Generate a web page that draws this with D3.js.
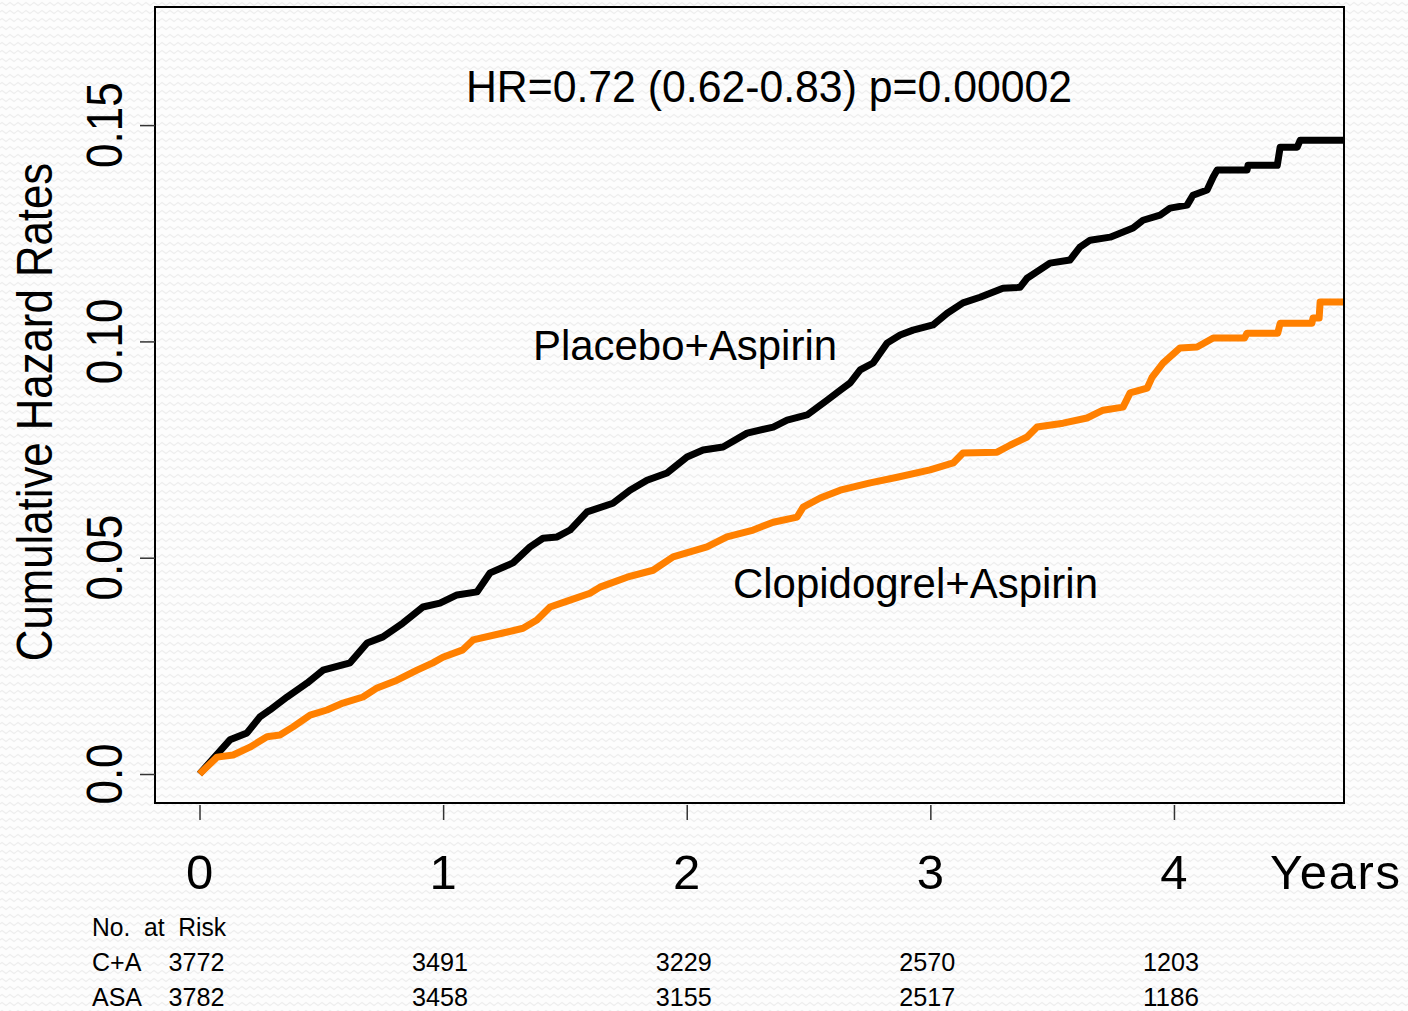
<!DOCTYPE html>
<html>
<head>
<meta charset="utf-8">
<script src="https://cdn.jsdelivr.net/npm/d3@7"></script>
<style>
  html, body { margin: 0; padding: 0; background: #fdfdfd; }
  svg { display: block; font-family: "Liberation Sans", Arial, sans-serif; }
  text { white-space: pre; }
</style>
</head>
<body>
<svg id="chart" width="1408" height="1011"></svg>
<script>
// ---------- data (corners of the step curves) ----------
const placeboTime = [0, 0.125, 0.195, 0.248, 0.289, 0.359, 0.441, 0.507, 0.618, 0.688, 0.753, 0.835, 0.917, 0.987,
  1.057, 1.139, 1.193, 1.246, 1.287, 1.357, 1.410, 1.468, 1.521, 1.591, 1.697, 1.767, 1.837, 1.919, 2.001, 2.067,
  2.149, 2.248, 2.355, 2.412, 2.494, 2.576, 2.630, 2.671, 2.712, 2.765, 2.822, 2.876, 2.929, 3.011, 3.069, 3.134,
  3.204, 3.298, 3.368, 3.397, 3.491, 3.573, 3.614, 3.656, 3.738, 3.832, 3.873, 3.943, 3.984, 4.054, 4.078, 4.136,
  4.161, 4.177, 4.300, 4.304, 4.424, 4.436, 4.506, 4.518, 4.698];
const placeboHaz = [0, 0.0079, 0.0095, 0.0132, 0.0148, 0.0178, 0.0210, 0.0240, 0.0257, 0.0303, 0.0317, 0.0349, 0.0386, 0.0395,
  0.0414, 0.0421, 0.0465, 0.0478, 0.0488, 0.0525, 0.0545, 0.0548, 0.0564, 0.0606, 0.0626, 0.0656, 0.0679, 0.0696, 0.0733, 0.0749,
  0.0756, 0.0788, 0.0802, 0.0818, 0.0830, 0.0864, 0.0887, 0.0904, 0.0934, 0.0950, 0.0996, 0.1015, 0.1026, 0.1038, 0.1065, 0.1089,
  0.1102, 0.1123, 0.1125, 0.1146, 0.1181, 0.1188, 0.1218, 0.1234, 0.1241, 0.1262, 0.1280, 0.1292, 0.1308, 0.1315, 0.1338, 0.1350,
  0.1380, 0.1396, 0.1396, 0.1407, 0.1407, 0.1449, 0.1449, 0.1465, 0.1465];

const clopTime = [0, 0.072, 0.138, 0.207, 0.277, 0.330, 0.384, 0.454, 0.523, 0.589, 0.671, 0.729, 0.811, 0.893, 0.958, 0.999,
  1.081, 1.123, 1.246, 1.328, 1.385, 1.439, 1.521, 1.603, 1.644, 1.755, 1.862, 1.944, 2.083, 2.165, 2.273, 2.355, 2.453,
  2.478, 2.548, 2.630, 2.753, 2.864, 2.999, 3.094, 3.134, 3.274, 3.327, 3.397, 3.438, 3.545, 3.643, 3.709, 3.791, 3.820,
  3.890, 3.910, 3.955, 4.025, 4.095, 4.161, 4.290, 4.300, 4.426, 4.436, 4.566, 4.571, 4.596, 4.600, 4.698];
const clopHaz = [0, 0.0039, 0.0044, 0.0062, 0.0086, 0.0090, 0.0109, 0.0136, 0.0148, 0.0164, 0.0178, 0.0199, 0.0217, 0.0240, 0.0257, 0.0270,
  0.0287, 0.0310, 0.0326, 0.0337, 0.0356, 0.0386, 0.0402, 0.0418, 0.0432, 0.0455, 0.0471, 0.0502, 0.0525, 0.0548, 0.0564, 0.0582, 0.0594,
  0.0617, 0.0638, 0.0656, 0.0673, 0.0686, 0.0703, 0.0719, 0.0742, 0.0744, 0.0760, 0.0779, 0.0802, 0.0811, 0.0823, 0.0841, 0.0848, 0.0881,
  0.0892, 0.0917, 0.0950, 0.0985, 0.0987, 0.1008, 0.1008, 0.1019, 0.1019, 0.1042, 0.1042, 0.1054, 0.1054, 0.1091, 0.1091];

const xTicks = [0, 1, 2, 3, 4];
const yTicks = [0, 0.05, 0.10, 0.15];
const yTickLabels = ["0.0", "0.05", "0.10", "0.15"];
const riskTimes = [0, 1, 2, 3, 4];
const riskCA = [3772, 3491, 3229, 2570, 1203];
const riskASA = [3782, 3458, 3155, 2517, 1186];
const riskGroups = ["C+A", "ASA"];

// ---------- layout ----------
const svg = d3.select("#chart");
const box = {left: 155, right: 1344, top: 7, bottom: 803};
const x = d3.scaleLinear().domain([-0.1827, 4.698]).range([box.left, box.right]);
const y = d3.scaleLinear().domain([-0.0067, 0.1773]).range([box.bottom, box.top]);

// background zigzag pattern
const defs = svg.append("defs");
const pat = defs.append("pattern").attr("id", "zig").attr("patternUnits", "userSpaceOnUse")
  .attr("width", 8).attr("height", 8);
pat.append("rect").attr("width", 8).attr("height", 8).attr("fill", "#fdfdfd");
pat.append("path").attr("d", "M0,4 L2,2.5 L4,4 L6,5.5 L8,4").attr("fill", "none")
  .attr("stroke", "#eeeeee").attr("stroke-width", 1.1);
svg.append("rect").attr("width", 1408).attr("height", 1011).attr("fill", "url(#zig)");

// lines
const line = d3.line().x(d => x(d[0])).y(d => y(d[1])).curve(d3.curveLinear);
svg.append("path").datum(placeboTime.map((t, i) => [t, placeboHaz[i]]))
  .attr("d", line).attr("fill", "none").attr("stroke", "#000").attr("stroke-width", 7)
  .attr("stroke-linejoin", "round");
svg.append("path").datum(clopTime.map((t, i) => [t, clopHaz[i]]))
  .attr("d", line).attr("fill", "none").attr("stroke", "#ff8000").attr("stroke-width", 7)
  .attr("stroke-linejoin", "round");

// box
svg.append("rect").attr("x", box.left).attr("y", box.top)
  .attr("width", box.right - box.left).attr("height", box.bottom - box.top)
  .attr("fill", "none").attr("stroke", "#000").attr("stroke-width", 2);

// y axis ticks
const yAxis = svg.append("g").attr("transform", `translate(${box.left},0)`)
  .call(d3.axisLeft(y).tickValues(yTicks).tickSize(15).tickFormat(""));
yAxis.select(".domain").remove();
yAxis.selectAll("line").attr("stroke", "#333").attr("stroke-width", 1.5);

yTicks.forEach((v, i) => {
  svg.append("text").attr("transform", `translate(122,${y(v)}) rotate(-90) scale(0.88,1)`)
    .attr("text-anchor", "middle").attr("font-size", 50).attr("fill", "#000").text(yTickLabels[i]);
});

// x axis ticks (no axis line)
const xAxis = svg.append("g").attr("transform", `translate(0,${box.bottom + 2})`)
  .call(d3.axisBottom(x).tickValues(xTicks).tickSize(15).tickFormat(""));
xAxis.select(".domain").remove();
xAxis.selectAll("line").attr("stroke", "#333").attr("stroke-width", 1.5);

xTicks.forEach(v => {
  svg.append("text").attr("x", x(v)).attr("y", 889).attr("text-anchor", "middle")
    .attr("font-size", 49).attr("fill", "#000").text(String(v));
});
svg.append("text").attr("x", 1270).attr("y", 889).attr("font-size", 49)
  .attr("textLength", 130).attr("lengthAdjust", "spacing").text("Years");

// y title
svg.append("text").attr("transform", `translate(52,412) rotate(-90) scale(0.875,1)`)
  .attr("text-anchor", "middle").attr("font-size", 50).text("Cumulative Hazard Rates");

// annotations
svg.append("text").attr("x", 466).attr("y", 102).attr("font-size", 44)
  .attr("textLength", 606).attr("lengthAdjust", "spacingAndGlyphs").text("HR=0.72 (0.62-0.83) p=0.00002");
svg.append("text").attr("x", 533).attr("y", 360).attr("font-size", 42)
  .attr("textLength", 304).attr("lengthAdjust", "spacingAndGlyphs").text("Placebo+Aspirin");
svg.append("text").attr("x", 733).attr("y", 598).attr("font-size", 42)
  .attr("textLength", 365).attr("lengthAdjust", "spacingAndGlyphs").text("Clopidogrel+Aspirin");

// risk table
svg.append("text").attr("x", 92).attr("y", 936).attr("font-size", 25)
  .attr("textLength", 134).attr("lengthAdjust", "spacingAndGlyphs").text("No.  at  Risk");
[riskCA, riskASA].forEach((row, r) => {
  const yy = 971 + r * 35;
  svg.append("text").attr("x", 92).attr("y", yy).attr("font-size", 25).text(riskGroups[r]);
  row.forEach((n, i) => {
    svg.append("text").attr("x", x(riskTimes[i]) - 3).attr("y", yy).attr("text-anchor", "middle")
      .attr("font-size", 25).attr("textLength", 56).attr("lengthAdjust", "spacingAndGlyphs").text(String(n));
  });
});
</script>
</body>
</html>
